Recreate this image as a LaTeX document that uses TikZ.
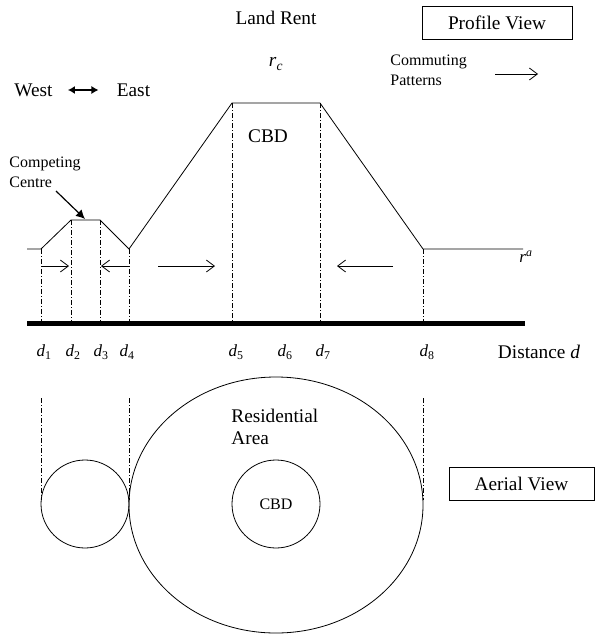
\documentclass[tikz,border=0pt]{standalone}
\usepackage{fontspec}
\setmainfont{Liberation Serif}
\usetikzlibrary{arrows.meta}

\begin{document}
\begin{tikzpicture}[x=1pt, y=-1pt, line width=0.8pt,
    ddot/.style={line width=0.6pt, dash pattern=on 5pt off 2pt on 1pt off 2pt},
    big/.style={font=\fontsize{19.3}{22}\selectfont, inner sep=0pt},
    small/.style={font=\fontsize{16}{20}\selectfont, inner sep=0pt},
    lab/.style={font=\fontsize{17}{20}\selectfont, inner sep=0pt},
    viewbox/.style={big, draw, line width=0.6pt, minimum height=33pt},
    flow/.style={-{Straight Barb[length=8pt,width=12pt]}}]
  \useasboundingbox (0,0) rectangle (595,637);
  \def\yout{249} \def\ycomp{220} \def\ycbd{103} \def\ybase{323} \def\yflow{266}
  % headings and legend
  \node[big] (rent) at (276,18) {Land Rent};
  \node[viewbox, minimum width=150pt] (profile) at (497,22.5) {Profile View};
  \node[big] (rc) at (276,64) {\textit{r}\textsubscript{\textit{c}}};
  \node[small, anchor=west, align=left] (commute) at (390,70) {Commuting\\Patterns};
  \draw[flow] (495,74) -- (538,74);
  \node[big] (west) at (33.5,90) {West};
  \node[big] (east) at (133.5,90) {East};
  \draw[{Latex[length=7pt,width=8pt]}-{Latex[length=7pt,width=8pt]}, line width=1.1pt,
        shorten <=15pt, shorten >=18pt] (west.east) -- (east.west);
  % rent profile
  \draw (27,\yout) -- (41,\yout) -- (71,\ycomp) -- (100,\ycomp) -- (129,\yout)
        -- (232,\ycbd) -- (320,\ycbd) -- (423,\yout) -- (523,\yout);
  \node[big] (cbd) at (268,136) {CBD};
  \node[lab] (ra) at (526,257) {\textit{r}\textsuperscript{\textit{a}}};
  \node[small, anchor=west, align=left] (comp) at (9,172.5) {Competing\\Centre};
  \coordinate (comptail) at (56,191);
  \coordinate (comppeak) at (85,219);
  \draw[-{Latex[length=9pt,width=9pt]}, line width=1.2pt] (comptail) -- (comppeak);
  % boundaries down to the axis
  \draw[ddot] (41,\yout) -- (41,\ybase);
  \draw[ddot] (71,\ycomp) -- (71,\ybase);
  \draw[ddot] (100,\ycomp) -- (100,\ybase);
  \draw[ddot] (129,\yout) -- (129,\ybase);
  \draw[ddot] (232,\ycbd) -- (232,\ybase);
  \draw[ddot] (320,\ycbd) -- (320,\ybase);
  \draw[ddot] (423,\yout) -- (423,\ybase);
  % commuting flows
  \draw[flow] (41,\yflow) -- (69,\yflow);
  \draw[flow] (129,\yflow) -- (101,\yflow);
  \draw[flow] (158,\yflow) -- (215,\yflow);
  \draw[flow] (393,\yflow) -- (337,\yflow);
  % distance axis
  \draw[line width=5pt] (27,\ybase) -- (525,\ybase);
  \node[lab] (d1) at (44,352) {\textit{d}\textsubscript{1}};
  \node[lab] (d2) at (73,352) {\textit{d}\textsubscript{2}};
  \node[lab] (d3) at (101,352) {\textit{d}\textsubscript{3}};
  \node[lab] (d4) at (127,352) {\textit{d}\textsubscript{4}};
  \node[lab] (d5) at (236,352) {\textit{d}\textsubscript{5}};
  \node[lab] (d6) at (285,352) {\textit{d}\textsubscript{6}};
  \node[lab] (d7) at (323,352) {\textit{d}\textsubscript{7}};
  \node[lab] (d8) at (427,352) {\textit{d}\textsubscript{8}};
  \node[big] (dist) at (539,352) {Distance \textit{d}};
  % aerial view
  \draw[ddot] (41,398) -- (41,500);
  \draw[ddot] (129,398) -- (129,500);
  \draw[ddot] (423,398) -- (423,500);
  \draw (85,504) circle[radius=44];
  \draw (276,505) ellipse[x radius=147, y radius=128];
  \draw (276,504) circle[radius=44];
  \node[big, anchor=west, align=left] (resid) at (231,427) {Residential\\Area};
  \node[small] (cbdin) at (276,504) {CBD};
  \node[viewbox, minimum width=145pt] (aerial) at (521.5,483.5) {Aerial View};
\end{tikzpicture}
\end{document}
